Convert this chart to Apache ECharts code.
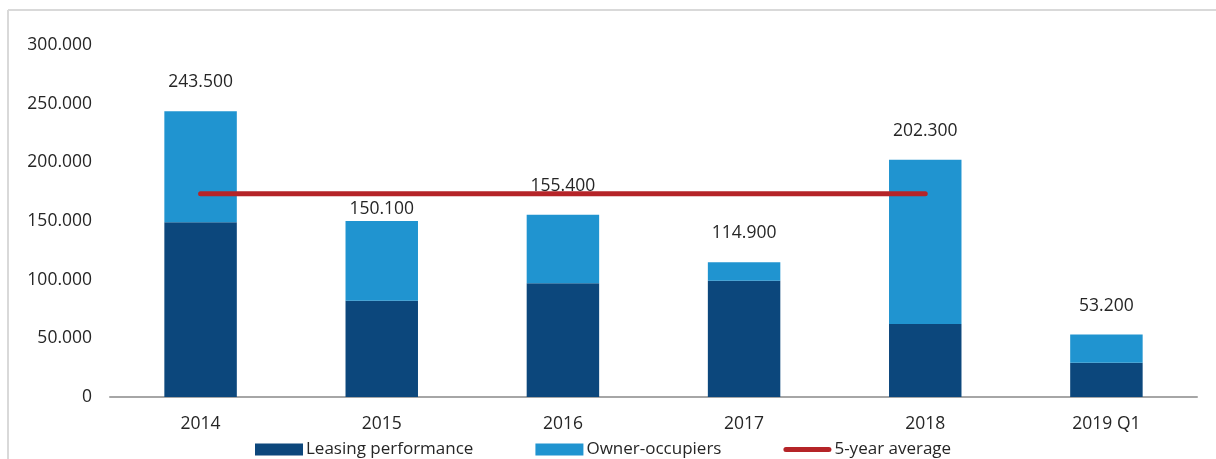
<!DOCTYPE html>
<html>
<head>
<meta charset="utf-8">
<title>Leasing performance and owner-occupiers</title>
<script src="https://cdn.jsdelivr.net/npm/echarts@6/dist/echarts.min.js"></script>
<style>
  html, body { margin: 0; padding: 0; background: #ffffff; }
  #chart { width: 1216px; height: 459px; }
</style>
</head>
<body>
<div id="chart"></div>
<script>
// Take-up by year (sqm)
var categories = ['2014', '2015', '2016', '2017', '2018', '2019 Q1'];
var leasingPerformance = [149000, 82000, 97000, 99000, 62200, 29200];
var ownerOccupiers = [94500, 68100, 58400, 15900, 140100, 24000];
var totals = [243500, 150100, 155400, 114900, 202300, 53200];
var fiveYearAverage = [173240, 173240, 173240, 173240, 173240, null];
var yTicks = [0, 50000, 100000, 150000, 200000, 250000, 300000];

function fmt(v) {
  if (v === 0) return '0';
  return String(Math.round(v)).replace(/\B(?=(\d{3})+(?!\d))/g, '.');
}

var FONT = '"Open Sans", "Noto Sans", sans-serif';
var TEXT = '#262626';
var RED = '#b52428';

var chart = echarts.init(document.getElementById('chart'), null, { renderer: 'canvas' });

var ownerData = ownerOccupiers.map(function (v, i) {
  var item = { value: v };
  // the 2015 total sits just above its bar, clear of the average line
  if (categories[i] === '2015') item.label = { distance: 3 };
  return item;
});

chart.setOption({
  animation: false,
  backgroundColor: '#ffffff',
  textStyle: { fontFamily: FONT },
  graphic: [
    { type: 'line', shape: { x1: 8, y1: 10, x2: 1216, y2: 10 }, style: { stroke: '#d9d9d9', lineWidth: 2 }, silent: true },
    { type: 'line', shape: { x1: 8, y1: 10, x2: 8, y2: 459 }, style: { stroke: '#d9d9d9', lineWidth: 2 }, silent: true }
  ],
  grid: { left: 110, right: 19, top: 45, bottom: 62 },
  legend: {
    left: 250,
    top: 436,
    itemWidth: 48,
    itemHeight: 12,
    itemGap: 62,
    textStyle: { fontFamily: FONT, fontSize: 17, color: TEXT, padding: [0, 0, 0, -2] },
    data: [
      { name: 'Leasing performance', icon: 'rect' },
      { name: 'Owner-occupiers', icon: 'rect' },
      {
        name: '5-year average',
        icon: 'path://M2.5,0 L45.5,0 A2.5,2.5 0 0 1 45.5,5 L2.5,5 A2.5,2.5 0 0 1 2.5,0 Z',
        itemStyle: { color: RED }
      }
    ]
  },
  xAxis: {
    type: 'category',
    data: categories,
    axisTick: { show: false },
    axisLine: { lineStyle: { color: '#a6a6a6', width: 2 } },
    axisLabel: { color: TEXT, fontFamily: FONT, fontSize: 17.5, margin: 18 }
  },
  yAxis: {
    type: 'value',
    min: yTicks[0],
    max: yTicks[yTicks.length - 1],
    interval: yTicks[1] - yTicks[0],
    splitLine: { show: false },
    axisLine: { show: false },
    axisTick: { show: false },
    axisLabel: { color: TEXT, fontFamily: FONT, fontSize: 17.5, margin: 18, formatter: fmt }
  },
  series: [
    {
      name: 'Leasing performance',
      type: 'bar',
      stack: 'total',
      barWidth: '40%',
      itemStyle: { color: '#0c477c' },
      data: leasingPerformance
    },
    {
      name: 'Owner-occupiers',
      type: 'bar',
      stack: 'total',
      barWidth: '40%',
      itemStyle: { color: '#2094d0' },
      label: {
        show: true,
        position: 'top',
        distance: 20,
        color: TEXT,
        fontFamily: FONT,
        fontSize: 17.5,
        formatter: function (p) { return fmt(totals[p.dataIndex]); }
      },
      data: ownerData
    },
    {
      name: '5-year average',
      type: 'line',
      symbol: 'none',
      z: 5,
      lineStyle: { color: RED, width: 5, cap: 'round' },
      itemStyle: { color: RED },
      data: fiveYearAverage
    }
  ]
});
</script>
</body>
</html>
